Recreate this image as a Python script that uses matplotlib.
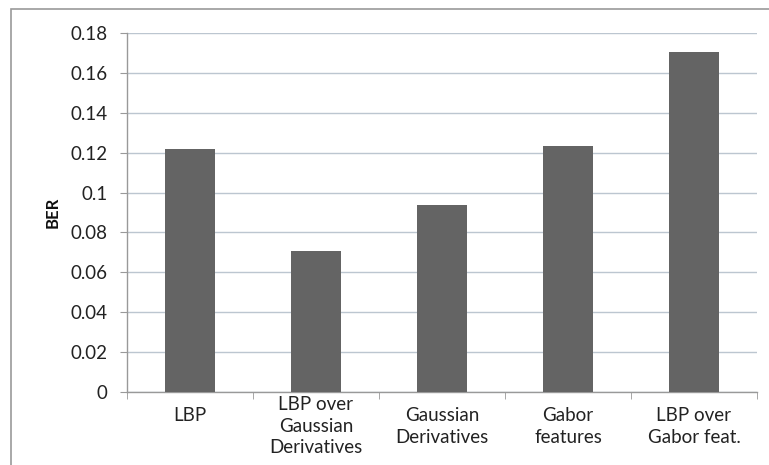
import matplotlib
matplotlib.use("Agg")
import matplotlib.pyplot as plt
import matplotlib.transforms as mtransforms
from matplotlib.patches import Rectangle
import numpy as np

categories = ["LBP", "LBP over\nGaussian\nDerivatives", "Gaussian\nDerivatives",
              "Gabor\nfeatures", "LBP over\nGabor feat."]
ber = [0.122, 0.0705, 0.094, 0.1235, 0.1705]
yticks = [0, 0.02, 0.04, 0.06, 0.08, 0.1, 0.12, 0.14, 0.16, 0.18]
ytick_labels = ["0", "0.02", "0.04", "0.06", "0.08", "0.1", "0.12", "0.14", "0.16", "0.18"]

plt.rcParams['font.family'] = ['Lato', 'DejaVu Sans']

W, H = 769, 465
fig = plt.figure(figsize=(W / 100, H / 100), dpi=100)
fig.patch.set_facecolor('white')

# outer frame
fig.add_artist(Rectangle((11 / W, -0.05), 1.1, (H - 9) / H + 0.05, transform=fig.transFigure,
                         fill=False, edgecolor='#9a9a9a', linewidth=1.2))

ax = fig.add_axes([127 / W, (H - 392) / H, (757 - 127) / W, (392 - 33) / H])
x = np.arange(len(categories))
ax.bar(x, ber, width=0.4, color='#646464', zorder=3)
ax.set_xlim(-0.5, len(categories) - 0.5)
ax.set_ylim(0, 0.18)
ax.set_yticks(yticks)
ax.set_yticklabels(ytick_labels, fontsize=13.5, color='#222222')
ax.yaxis.grid(True, color='#bcc6d0', linewidth=1.0, zorder=0)
ax.set_axisbelow(True)

ax.set_xticks(x)
ax.set_xticklabels(categories, fontsize=13.5, color='#222222', linespacing=1.32, va='top')
ax.tick_params(axis='x', length=0, pad=11)
ax.set_xticks(np.arange(-0.5, len(categories) + 0.5, 1), minor=True)
ax.tick_params(axis='x', which='minor', length=5, color='#999999', direction='out')
ax.tick_params(axis='y', length=5, color='#999999', direction='out', pad=9)

for sp in ['top', 'right']:
    ax.spines[sp].set_visible(False)
for sp in ['left', 'bottom']:
    ax.spines[sp].set_color('#999999')
    ax.spines[sp].set_linewidth(1.0)

ax.set_ylabel('BER', fontsize=12, fontweight='bold', labelpad=7, color='#111111')

# shift the three-line label up slightly
for lb in ax.get_xticklabels():
    if lb.get_text().count('\n') == 2:
        lb.set_transform(lb.get_transform() + mtransforms.ScaledTranslation(0, 11 / 100, fig.dpi_scale_trans))

fig.savefig('out.png', dpi=100, facecolor='white')
